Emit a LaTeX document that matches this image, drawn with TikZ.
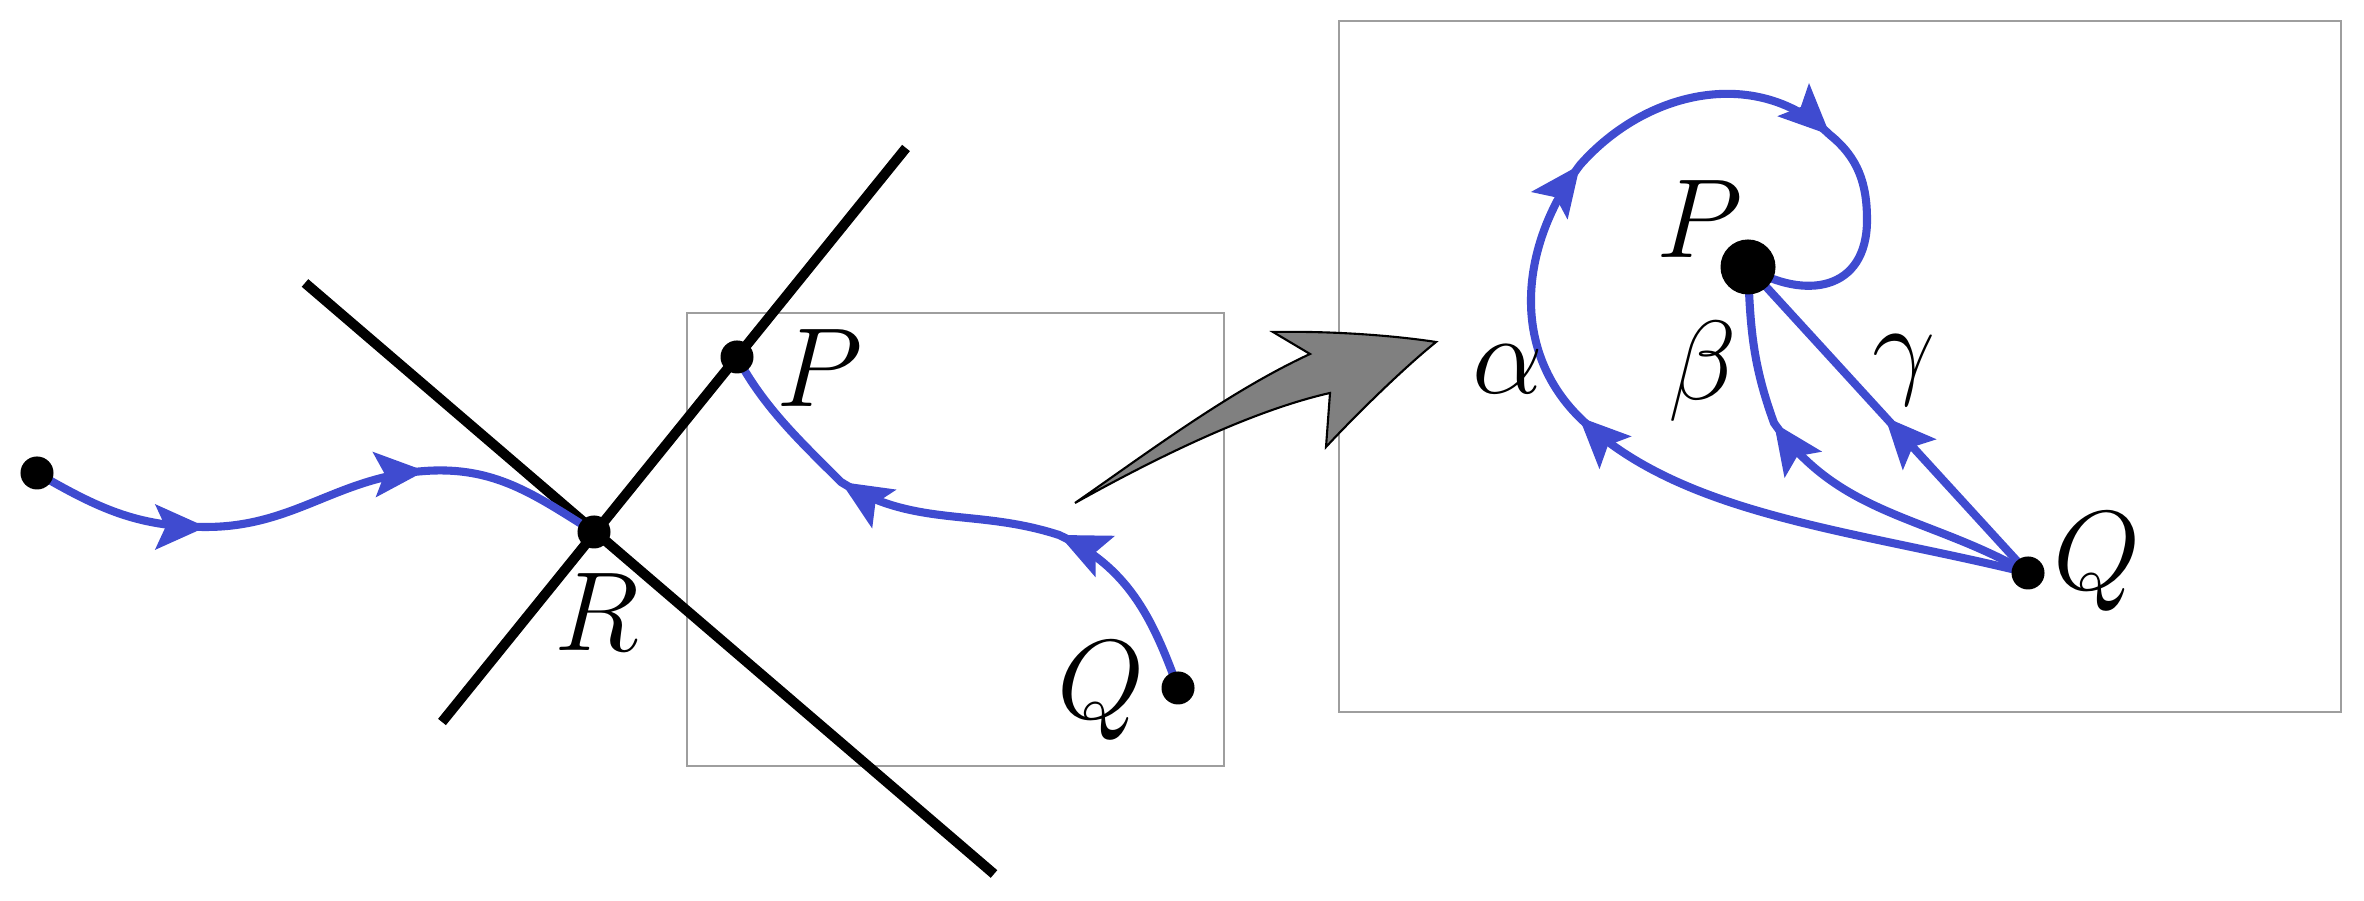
\documentclass[tikz,border=0pt]{standalone}
\usepackage{fix-cm}
\usetikzlibrary{arrows.meta,decorations.markings}
\pgfdeclarelayer{bg}
\pgfsetlayers{bg,main}
\definecolor{pathblue}{RGB}{63,75,208}
\begin{document}
\begin{tikzpicture}[x=0.01cm,y=0.01cm,
  dot/.style={circle,fill=black,inner sep=0pt,minimum size=0.33cm},
  bigdot/.style={circle,fill=black,inner sep=0pt,minimum size=0.55cm},
  wall/.style={line width=2.85pt},
  boxframe/.style={draw=black!38,line width=0.6pt},
  bluepath/.style={draw=pathblue,line width=2.3pt},
  tipend/.style={postaction={decorate},decoration={markings,
    mark=at position 0.9999 with {\arrow[pathblue]{Stealth[length=14.5pt,width=13pt,inset=3pt]}}}},
  lbl/.style={inner sep=0pt,font=\fontsize{32}{38}\selectfont}]
\useasboundingbox (0,0) rectangle (2364,901);
% dots
\node[dot] (D0) at (37,428) {};
\node[dot] (R) at (594,369) {};
\node[dot] (P1) at (737,544) {};
\node[dot] (Q1) at (1178,213) {};
\node[bigdot] (Pb) at (1748,634) {};
\node[dot] (Q2) at (2028,328) {};
% labels
\node[lbl] (Rl) at (597,289) {$R$};
\node[lbl] (P1l) at (820,533) {$P$};
\node[lbl] (Q1l) at (1101,210) {$Q$};
\node[lbl] (P2l) at (1700,682) {$P$};
\node[lbl] (Q2l) at (2097,339) {$Q$};
\node[lbl] (al) at (1508,532) {$\alpha$};
\node[lbl] (bl) at (1703,530) {$\beta$};
\node[lbl] (gl) at (1904,531) {$\gamma$};
% coordinates
\coordinate (L1a) at (305,618); \coordinate (L1b) at (994,27);
\coordinate (L2a) at (442,179); \coordinate (L2b) at (906,753);
\coordinate (a1) at (206,374); \coordinate (a2) at (425,430);
\coordinate (b1) at (1059,366); \coordinate (b2) at (841,419);
\coordinate (g1) at (1885,484);
\coordinate (be1) at (1774,478);
\coordinate (al1) at (1579,484); \coordinate (al2) at (1580,736);
\coordinate (al3) at (1830,766); \coordinate (al4) at (1867,681);
\begin{pgfonlayer}{bg}
\draw[boxframe] (687,135) rectangle (1224,588);
\draw[boxframe] (1339,189) rectangle (2341,880);
\draw[wall] (L1a) -- (L1b);
\draw[wall] (L2a) -- (L2b);
% left curve
\draw[bluepath] (D0.center) to[out=-30,in=180] (a1) to[out=0,in=184] (a2) to[out=4,in=148] (R.center);
\path[tipend] (D0.center) to[out=-30,in=180] (a1);
\path[tipend] (a1) to[out=0,in=184] (a2);
% left box curve
\draw[bluepath] (Q1.center) to[out=110,in=-25] (b1) to[out=162,in=-32] (b2) to[out=135,in=-62,looseness=0.9] (P1.center);
\path[tipend] (Q1.center) to[out=110,in=-25] (b1);
\path[tipend] (b1) to[out=162,in=-32] (b2);
% gamma
\draw[bluepath] (Q2.center) -- (Pb.center);
\path[tipend] (Q2.center) -- (g1);
% beta
\draw[bluepath] (Q2.center) to[out=150,in=-55] (be1) to[out=110,in=-88] (Pb.center);
\path[tipend] (Q2.center) to[out=150,in=-55] (be1);
% alpha
\draw[bluepath] (Q2.center) .. controls (1850,372) and (1680,385) .. (al1)
  to[out=135,in=-127] (al2)
  .. controls (1647,812) and (1758,835) .. (al3)
  to[out=-39,in=90] (al4) .. controls (1867,610) and (1805,600) .. (Pb.center);
\path[tipend] (Q2.center) .. controls (1850,372) and (1680,385) .. (al1);
\path[tipend] (al1) to[out=135,in=-127] (al2);
\path[tipend] (al2) .. controls (1647,812) and (1758,835) .. (al3);
% big gray arrow
\draw[fill=black!50,line width=0.6pt,line join=miter]
  (1075,398) .. controls (1150,450) and (1230,510) .. (1310,547)
  -- (1273,569) .. controls (1330,570) and (1390,566) .. (1436,559)
  .. controls (1400,530) and (1350,480) .. (1326,454)
  -- (1330,508) .. controls (1250,490) and (1150,440) .. cycle;
\end{pgfonlayer}
\end{tikzpicture}
\end{document}
